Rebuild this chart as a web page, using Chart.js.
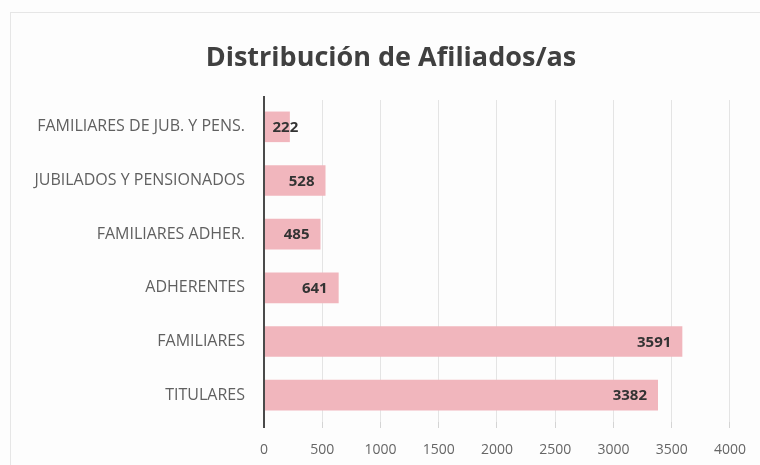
<!DOCTYPE html>
<html>
<head>
<meta charset="utf-8">
<script src="https://cdn.jsdelivr.net/npm/chart.js@4/dist/chart.umd.min.js"></script>
<style>
html,body{margin:0;padding:0;background:#fdfdfd;}
#wrap{position:relative;width:760px;height:465px;}
#frame{position:absolute;left:10px;top:12px;width:760px;height:470px;border:1px solid #e6e6e6;box-sizing:border-box;}
canvas{position:absolute;left:0;top:0;}
</style>
</head>
<body>
<div id="wrap">
<div id="frame"></div>
<canvas id="c" width="760" height="465"></canvas>
</div>
<script>
const title = "Distribución de Afiliados/as";
const categories = ["FAMILIARES DE JUB. Y PENS.", "JUBILADOS Y PENSIONADOS", "FAMILIARES ADHER.", "ADHERENTES", "FAMILIARES", "TITULARES"];
const values = [222, 528, 485, 641, 3591, 3382];
const xTicks = [0, 500, 1000, 1500, 2000, 2500, 3000, 3500, 4000];

const FONT = "'Open Sans', 'Liberation Sans', sans-serif";

const valueLabels = {
  id: 'valueLabels',
  afterDatasetsDraw(chart) {
    const ctx = chart.ctx;
    const meta = chart.getDatasetMeta(0);
    ctx.save();
    ctx.font = "bold 15px " + FONT;
    ctx.fillStyle = "#333333";
    ctx.textAlign = "right";
    ctx.textBaseline = "middle";
    meta.data.forEach((bar, i) => {
      const txt = String(values[i]);
      const w = ctx.measureText(txt).width;
      const x = Math.max(bar.x - 11, bar.base + 8 + w);
      ctx.fillText(txt, x, bar.y + 1);
    });
    ctx.restore();
  }
};

const extras = {
  id: 'extras',
  afterDraw(chart) {
    const ctx = chart.ctx;
    const a = chart.chartArea;
    ctx.save();
    ctx.strokeStyle = '#4a4a4a';
    ctx.lineWidth = 2;
    ctx.beginPath();
    ctx.moveTo(a.left, a.top - 4);
    ctx.lineTo(a.left, a.bottom + 6);
    ctx.stroke();
    ctx.font = "bold 27px " + FONT;
    ctx.fillStyle = "#404040";
    ctx.textAlign = "center";
    ctx.textBaseline = "middle";
    ctx.fillText(title, 391, 58);
    ctx.restore();
  }
};

new Chart(document.getElementById('c'), {
  type: 'bar',
  data: {
    labels: categories,
    datasets: [{
      data: values,
      backgroundColor: '#f1b6bd',
      borderWidth: 0,
      barPercentage: 0.57,
      categoryPercentage: 1.0
    }]
  },
  options: {
    indexAxis: 'y',
    responsive: false,
    animation: false,
    devicePixelRatio: 1,
    layout: { padding: { left: 0, right: 25, top: 100, bottom: 0 } },
    plugins: { legend: { display: false }, tooltip: { enabled: false }, title: { display: false } },
    scales: {
      x: {
        min: 0, max: 4000,
        afterBuildTicks(scale) { scale.ticks = xTicks.map(v => ({ value: v })); },
        grid: { color: '#e4e4e4', lineWidth: 1, drawTicks: true, tickLength: 6, tickColor: '#d4d4d4' },
        border: { display: false },
        ticks: { color: '#666666', font: { family: FONT, size: 14 }, padding: 14, callback: (v) => String(v) },
        afterFit(scale) { scale.height = 43; }
      },
      y: {
        grid: { display: false, drawTicks: false },
        border: { display: false },
        ticks: { color: '#606060', font: { family: FONT, size: 16 }, padding: 19 },
        afterFit(scale) { scale.width = 264; }
      }
    }
  },
  plugins: [valueLabels, extras]
});
</script>
</body>
</html>
